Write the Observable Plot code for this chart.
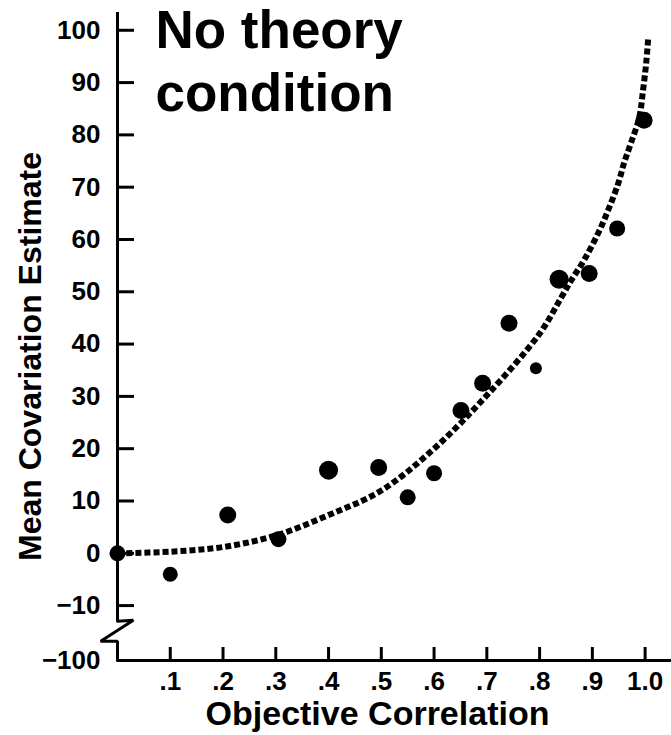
<!DOCTYPE html>
<html><head><meta charset="utf-8">
<script src="https://cdn.jsdelivr.net/npm/d3@7"></script>
<script src="https://cdn.jsdelivr.net/npm/@observablehq/plot@0.6"></script>
<style>body{margin:0;background:#fff}svg{display:block}</style>
</head><body><div id="chart"></div>
<script>
// Observed points
const pointX = [0, 0.1, 0.209, 0.305, 0.40, 0.495, 0.55, 0.60, 0.651, 0.692, 0.742, 0.793, 0.837, 0.894, 0.947, 0.998];
const pointY = [0, -4, 7.3, 2.7, 15.9, 16.4, 10.7, 15.3, 27.3, 32.5, 44.0, 35.4, 52.4, 53.5, 62.1, 82.8];
const pointR = [8, 7.5, 8.5, 8, 9.5, 8.5, 8, 8, 8.5, 8.5, 8.5, 6, 9.5, 8.5, 8, 8.5];
// Fitted dashed curve
const curveX = [0, 0.1, 0.2, 0.3, 0.4, 0.5, 0.6, 0.7, 0.8, 0.841, 0.86, 0.884, 0.911, 0.93, 0.949, 0.96, 0.973, 0.989, 0.996, 1.002, 1.006];
const curveY = [0, 0.3, 1.2, 3.4, 7.3, 12, 20, 30.2, 42, 48.9, 52.2, 56, 61.2, 65.6, 70.7, 74.6, 78.4, 83.4, 88.5, 93.7, 98.7];
// Axes
const xTicks = [0.1, 0.2, 0.3, 0.4, 0.5, 0.6, 0.7, 0.8, 0.9, 1.0];
const xTickLabels = [".1", ".2", ".3", ".4", ".5", ".6", ".7", ".8", ".9", "1.0"];
const yTicks = [-10, 0, 10, 20, 30, 40, 50, 60, 70, 80, 90, 100];
const yTickLabels = ["\u221210", "0", "10", "20", "30", "40", "50", "60", "70", "80", "90", "100"];
const yBreakPos = -20.5;          // where the broken axis puts its bottom value
const yBreakLabel = "\u2212100";
const breakX = [0, 0.030, -0.032, 0, 0];
const breakY = [-13.0, -12.8, -16.8, -16.8, -20.5];
const titleText = "No theory\ncondition";
const xLabel = "Objective Correlation";
const yLabel = "Mean Covariation Estimate";

const W = 671, H = 735, mL = 117, mR = 0, mT = 12, mB = 75;
const frameW = W - mL - mR, frameH = H - mT - mB;
const font = "'Liberation Sans', Arial, Helvetica, sans-serif";

const points = pointX.map((x, i) => ({x, y: pointY[i], r: pointR[i]}));
const curve = curveX.map((x, i) => ({x, y: curveY[i]}));
const brk = breakX.map((x, i) => ({x, y: breakY[i]}));

const chart = Plot.plot({
  width: W, height: H,
  marginLeft: mL, marginRight: mR, marginTop: mT, marginBottom: mB,
  style: {fontFamily: font, background: "#fff", color: "#000"},
  x: {domain: [0, 1.05], axis: null},
  y: {domain: [yBreakPos, 103.4], axis: null},
  r: {type: "identity"},
  marks: [
    // axis lines
    Plot.ruleX([0], {y1: breakY[0], y2: 103.4, stroke: "#000", strokeWidth: 3}),
    Plot.line(brk, {x: "x", y: "y", stroke: "#000", strokeWidth: 3, strokeLinejoin: "miter"}),
    Plot.ruleY([yBreakPos], {stroke: "#000", strokeWidth: 3}),
    // ticks (pointing inward)
    Plot.tickY(yTicks, {y: d => d, insetRight: frameW - 17, stroke: "#000", strokeWidth: 3}),
    Plot.tickX(xTicks, {x: d => d, insetTop: frameH - 13, stroke: "#000", strokeWidth: 3}),
    // tick labels
    Plot.text(yTicks, {y: d => d, text: (d, i) => yTickLabels[i], frameAnchor: "left", textAnchor: "end", lineAnchor: "middle", dx: -17, fontSize: 26, fontWeight: "bold", fill: "#000"}),
    Plot.text([yBreakLabel], {y: yBreakPos, text: d => d, frameAnchor: "left", textAnchor: "end", lineAnchor: "middle", dx: -17, fontSize: 26, fontWeight: "bold", fill: "#000"}),
    Plot.text(xTicks, {x: d => d, text: (d, i) => xTickLabels[i], frameAnchor: "bottom", lineAnchor: "middle", dy: 21, fontSize: 26, fontWeight: "bold", fill: "#000"}),
    // axis titles
    Plot.text([xLabel], {frameAnchor: "bottom", text: d => d, textAnchor: "middle", lineAnchor: "middle", dx: -17, dy: 54, fontSize: 34, fontWeight: "bold", fill: "#000"}),
    Plot.text([yLabel], {frameAnchor: "left", text: d => d, textAnchor: "middle", lineAnchor: "middle", rotate: -90, dx: -87, dy: 20, fontSize: 32, fontWeight: "bold", fill: "#000"}),
    // curve and points
    Plot.line(curve, {x: "x", y: "y", curve: "catmull-rom", stroke: "#000", strokeWidth: 6, strokeDasharray: "6 3", strokeLinecap: "butt"}),
    Plot.dot(points, {x: "x", y: "y", r: "r", fill: "#000", stroke: "none"}),
    // panel title
    Plot.text([titleText], {frameAnchor: "top-left", text: d => d, lineAnchor: "top", textAnchor: "start", dx: 38, dy: -10, lineHeight: 1.2, fontSize: 53, fontWeight: "bold", fill: "#000"})
  ]
});
document.getElementById("chart").appendChild(chart);
</script>
</body></html>
